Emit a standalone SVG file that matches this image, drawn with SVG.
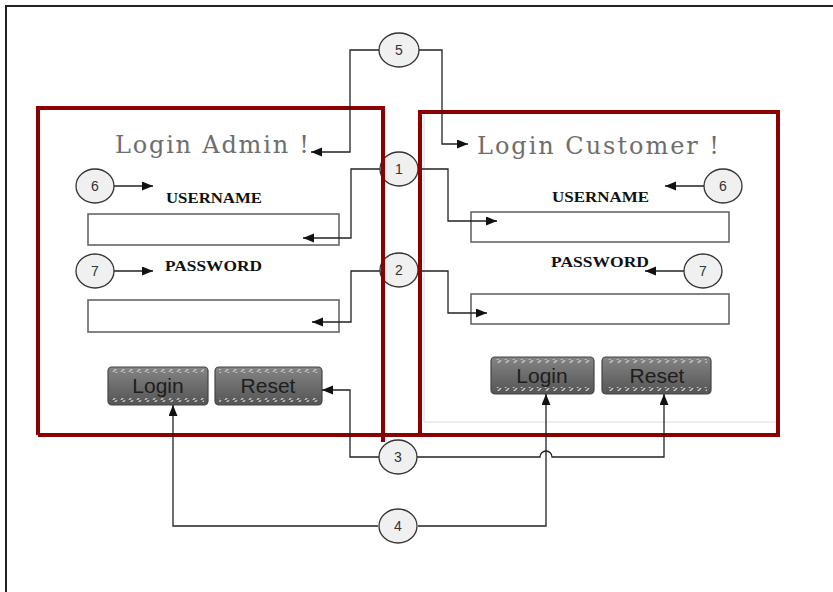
<svg xmlns="http://www.w3.org/2000/svg" width="833" height="592" viewBox="0 0 833 592">
<style>
.frame{fill:none;stroke:#8b0000;stroke-width:4}
.title{font-family:"DejaVu Serif","Liberation Serif",serif;font-size:24px;fill:#6e6e6e}
.lbl{font-family:"Liberation Serif",serif;font-size:14px;font-weight:bold;fill:#111}
.inp{fill:#fff;stroke:#666;stroke-width:1.6}
.btn{fill:url(#bg);stroke:#444;stroke-width:1.2}
.hatch{fill:url(#hp)}
.btxt{font-family:"Liberation Sans",Arial,sans-serif;font-size:21px;fill:#1e1e1e;text-anchor:middle}
.arr{fill:none;stroke:#222;stroke-width:1.3;marker-end:url(#ah)}
.num{fill:#f0f0f0;stroke:#333;stroke-width:1.3}
.ntxt{font-family:"Liberation Sans",Arial,sans-serif;font-size:14px;fill:#333;text-anchor:middle}
</style>
<defs>
<marker id="ah" markerUnits="userSpaceOnUse" markerWidth="12" markerHeight="10" refX="11" refY="4.5" orient="auto">
<path d="M0,0 L11,4.5 L0,9 z" fill="#111"/>
</marker>
<linearGradient id="bg" x1="0" y1="0" x2="0" y2="1">
<stop offset="0" stop-color="#858585"/>
<stop offset="0.5" stop-color="#6c6c6c"/>
<stop offset="1" stop-color="#555"/>
</linearGradient>
<pattern id="hp" patternUnits="userSpaceOnUse" width="8" height="4">
<path d="M1,4 L5,0" stroke="#c8c8c8" stroke-width="1.4"/>
</pattern>
</defs>
<path d="M6,592 V6 H833" fill="none" stroke="#222" stroke-width="2"/>

<g id="admin-panel">
<path class="frame" d="M38,435 V108 H383 V442"/>
<line x1="38" y1="435" x2="420" y2="435" stroke="#8b0000" stroke-width="4"/>
<text class="title" x="115" y="153" textLength="194" lengthAdjust="spacing">Login Admin !</text>
<text class="lbl" x="166" y="203" textLength="96" lengthAdjust="spacingAndGlyphs">USERNAME</text>
<rect class="inp" x="88" y="214" width="251" height="31"/>
<text class="lbl" x="165" y="271" textLength="97" lengthAdjust="spacingAndGlyphs">PASSWORD</text>
<rect class="inp" x="88" y="300" width="251" height="32"/>
<g id="admin-login">
<rect class="btn" x="108" y="367" width="100" height="38" rx="4"/>
<rect class="hatch" x="112" y="369" width="92" height="4"/>
<rect class="hatch" x="112" y="398" width="92" height="4"/>
<text class="btxt" x="158" y="393">Login</text>
</g>
<g id="admin-reset">
<rect class="btn" x="215" y="367" width="107" height="38" rx="4"/>
<rect class="hatch" x="219" y="369" width="99" height="4"/>
<rect class="hatch" x="219" y="398" width="99" height="4"/>
<text class="btxt" x="268" y="393">Reset</text>
</g>
</g>

<g id="customer-panel">
<path d="M424,114 V422 H776" fill="none" stroke="#dcdcdc" stroke-width="1"/>
<path class="frame" d="M420,435 V112 H778 V435 H420"/>
<text class="title" x="477" y="154" textLength="242" lengthAdjust="spacing">Login Customer !</text>
<text class="lbl" x="552" y="202" textLength="97" lengthAdjust="spacingAndGlyphs">USERNAME</text>
<rect class="inp" x="471" y="212" width="258" height="30"/>
<text class="lbl" x="551" y="267" textLength="98" lengthAdjust="spacingAndGlyphs">PASSWORD</text>
<rect class="inp" x="471" y="294" width="258" height="30"/>
<g id="customer-login">
<rect class="btn" x="491" y="357" width="103" height="37" rx="4"/>
<rect class="hatch" x="495" y="359" width="95" height="4"/>
<rect class="hatch" x="495" y="387" width="95" height="4"/>
<text class="btxt" x="542" y="383">Login</text>
</g>
<g id="customer-reset">
<rect class="btn" x="602" y="357" width="109" height="37" rx="4"/>
<rect class="hatch" x="606" y="359" width="101" height="4"/>
<rect class="hatch" x="606" y="387" width="101" height="4"/>
<text class="btxt" x="657" y="383">Reset</text>
</g>
</g>

<g id="connectors">
<path class="arr" d="M379,50 H350 V152 H311"/>
<path class="arr" d="M419,50 H442 V144 H468"/>
<path class="arr" d="M380,169 H351 V238 H303"/>
<path class="arr" d="M418,169 H448 V221 H497"/>
<path class="arr" d="M380,271 H351 V322 H312"/>
<path class="arr" d="M418,271 H448 V313 H487"/>
<path class="arr" d="M379,457 H350 V390 H322"/>
<path class="arr" d="M417,457 H540 a6,6 0 0 1 12,0 H664 V394"/>
<path class="arr" d="M378,526 H173 V405"/>
<path class="arr" d="M418,526 H546 V394"/>
<path class="arr" d="M114,186 H153"/>
<path class="arr" d="M114,271 H153"/>
<path class="arr" d="M704,186 H665"/>
<path class="arr" d="M684,271 H645"/>
</g>

<g id="n5"><ellipse class="num" cx="399" cy="50" rx="20" ry="17"/><text class="ntxt" x="399" y="55">5</text></g>
<g id="n1"><ellipse class="num" cx="399" cy="169" rx="19" ry="17"/><text class="ntxt" x="399" y="174">1</text></g>
<g id="n2"><ellipse class="num" cx="399" cy="270" rx="19" ry="17"/><text class="ntxt" x="399" y="275">2</text></g>
<g id="n3"><ellipse class="num" cx="398" cy="457" rx="19" ry="17"/><text class="ntxt" x="398" y="462">3</text></g>
<g id="n4"><ellipse class="num" cx="398" cy="526" rx="19" ry="17"/><text class="ntxt" x="398" y="531">4</text></g>
<g id="n6a"><ellipse class="num" cx="95" cy="186" rx="19" ry="17"/><text class="ntxt" x="95" y="191">6</text></g>
<g id="n7a"><ellipse class="num" cx="95" cy="271" rx="19" ry="17"/><text class="ntxt" x="95" y="276">7</text></g>
<g id="n6b"><ellipse class="num" cx="723" cy="186" rx="19" ry="17"/><text class="ntxt" x="723" y="191">6</text></g>
<g id="n7b"><ellipse class="num" cx="703" cy="271" rx="19" ry="17"/><text class="ntxt" x="703" y="276">7</text></g>

<g id="frame-overlay">
<line x1="383" y1="150" x2="383" y2="190" stroke="#8b0000" stroke-width="4"/>
<line x1="383" y1="252" x2="383" y2="290" stroke="#8b0000" stroke-width="4"/>
<line x1="420" y1="150" x2="420" y2="190" stroke="#8b0000" stroke-width="4"/>
<line x1="420" y1="252" x2="420" y2="290" stroke="#8b0000" stroke-width="4"/>
</g>
</svg>
